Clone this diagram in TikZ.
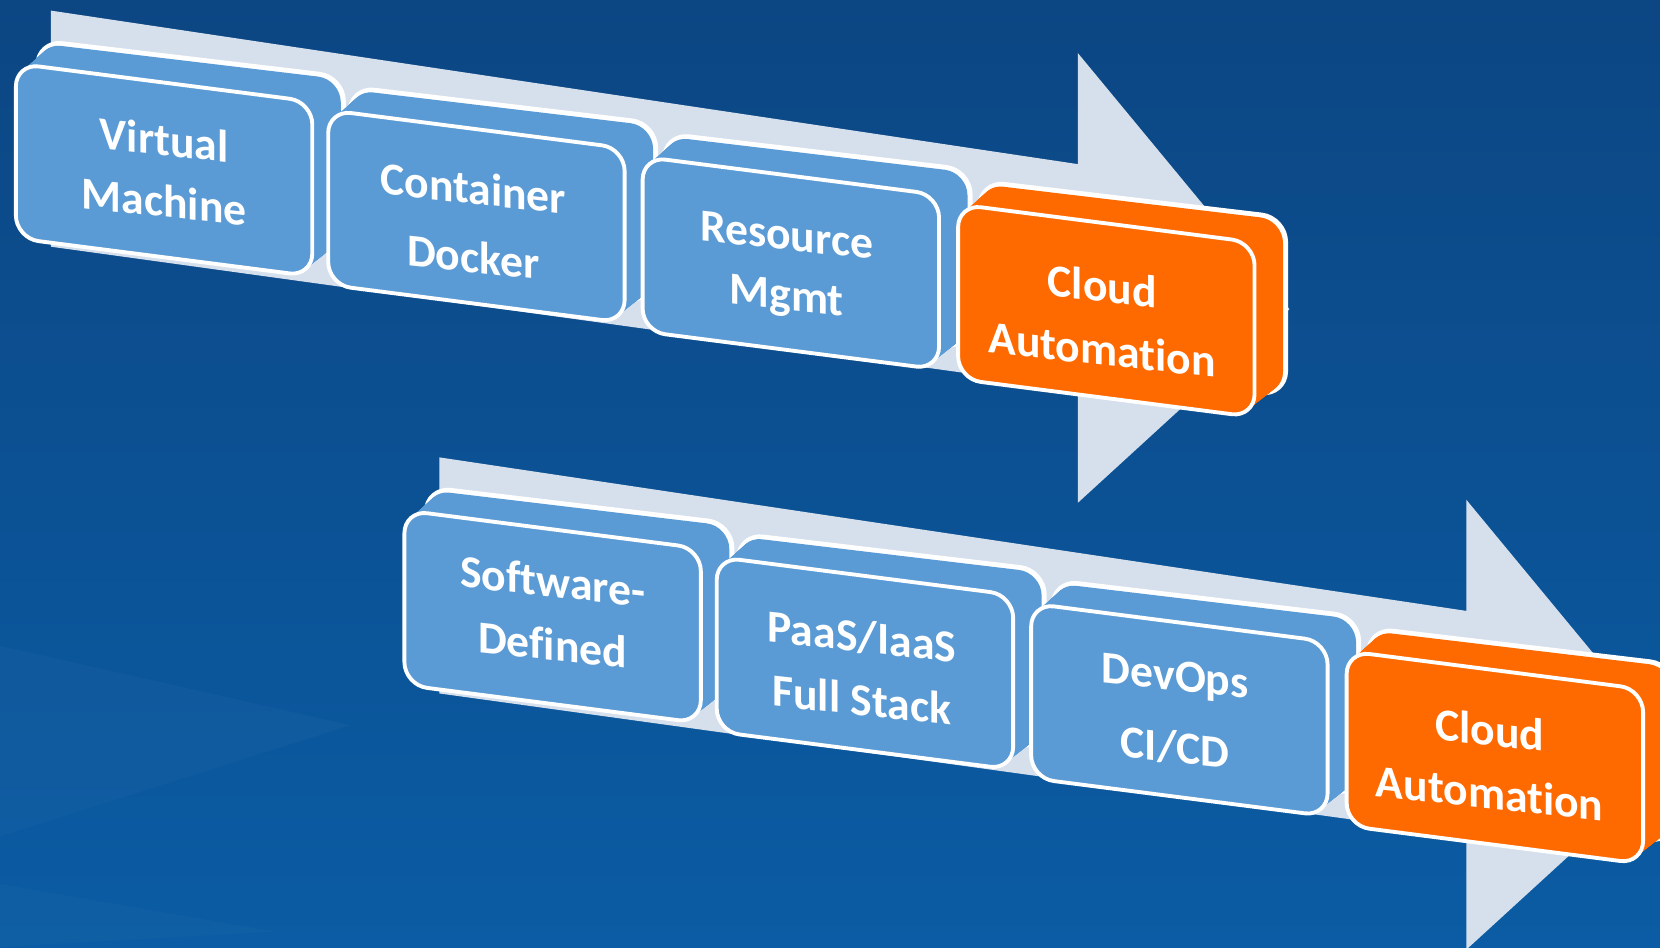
\documentclass[tikz,border=0pt]{standalone}
\usepackage{fontspec}
\setmainfont[Ligatures=NoCommon]{Carlito}
\usetikzlibrary{calc}

\definecolor{bgtop}{HTML}{0C4683}
\definecolor{bgbot}{HTML}{0B5CA4}
\definecolor{stageblue}{HTML}{5B9BD5}
\definecolor{stageorange}{HTML}{FF6A00}
\definecolor{arrowlight}{HTML}{D6E0ED}

\tikzset{
  outline/.style={draw=white, line width=1.1pt, line join=round},
  backline/.style={draw=white, line width=2.2pt, line join=round},
  band/.style={fill=arrowlight},
  stagetext/.style={text=white, align=center, inner sep=0pt,
    font=\bfseries\fontsize{13}{#1}\selectfont, yslant=-0.11},
  stagetext/.default=18pt,
}

% One extruded stage box: name, left x, top y, fill colour.
% Front face 280 wide, 165 high, top/bottom edges falling to the right;
% the back face sits up and to the right of it.
\newcommand\stagebox[4]{%
  \coordinate (#1) at (#2+140,#3+100);
  \path[backline, fill=#4, rounded corners=6.5pt]
    (#2+22,#3-20) -- (#2+308,#3+14) -- (#2+308,#3+179) -- (#2+22,#3+145) -- cycle;
  \foreach \t in {0.96,0.92,...,0.03} {
    \fill[#4, rounded corners=6.5pt]
      (#2+22*\t,#3-20*\t) -- (#2+280+28*\t,#3+36-22*\t)
      -- (#2+280+28*\t,#3+201-22*\t) -- (#2+22*\t,#3+165-20*\t) -- cycle;
  }
  \path[outline, fill=#4, rounded corners=6.5pt]
    (#2,#3) -- (#2+280,#3+36) -- (#2+280,#3+201) -- (#2,#3+165) -- cycle;
}

\begin{document}
\begin{tikzpicture}[x=0.010587cm, y=-0.010587cm]
  \useasboundingbox (0,0) rectangle (1568,894.5);
  \clip (0,0) rectangle (1568,894.5);

  % backdrop
  \fill[top color=bgtop, bottom color=bgbot] (0,0) rectangle (1568,894.5);
  \fill[white, opacity=0.025] (0,610) -- (331,685) -- (0,790) -- cycle;
  \fill[white, opacity=0.02] (0,835) -- (260,880) -- (0,894.5) -- cycle;

  % ---------- first row ----------
  \path[band] (48,10) -- (1018,155) -- (1018,50) -- (1218,292)
    -- (1018,475) -- (1018,367) -- (48,233) -- cycle;

  \stagebox{vm}{15}{60}{stageblue}
  \stagebox{ct}{310}{104}{stageblue}
  \stagebox{rm}{607}{148}{stageblue}
  \stagebox{ca}{905}{193}{stageorange}

  \node[stagetext=17.5pt] (vmtext) at (155,161) {Virtual\\Machine};
  \node[stagetext=19.5pt] (cttext) at (447,210) {Container\\Docker};
  \node[stagetext=17pt] (rmtext) at (743,254) {Resource\\Mgmt};
  \node[stagetext=18pt] (catext) at (1041,300) {Cloud\\Automation};

  % ---------- second row ----------
  \begin{scope}[shift={(367,422)}]
    \path[band] (48,10) -- (1018,155) -- (1018,50) -- (1218,292)
      -- (1018,475) -- (1018,367) -- (48,233) -- cycle;

    \stagebox{sd}{15}{60}{stageblue}
    \stagebox{ps}{310}{104}{stageblue}
    \stagebox{do}{607}{148}{stageblue}
    \stagebox{cb}{905}{193}{stageorange}

    \node[stagetext=18pt] (sdtext) at (155,157) {Software-\\Defined};
    \node[stagetext=18pt] (pstext) at (447,209) {PaaS/IaaS\\Full Stack};
    \node[stagetext=20.5pt] (dotext) at (743,251) {DevOps\\CI/CD};
    \node[stagetext=18pt] (cbtext) at (1040,297) {Cloud\\Automation};
  \end{scope}
\end{tikzpicture}
\end{document}
